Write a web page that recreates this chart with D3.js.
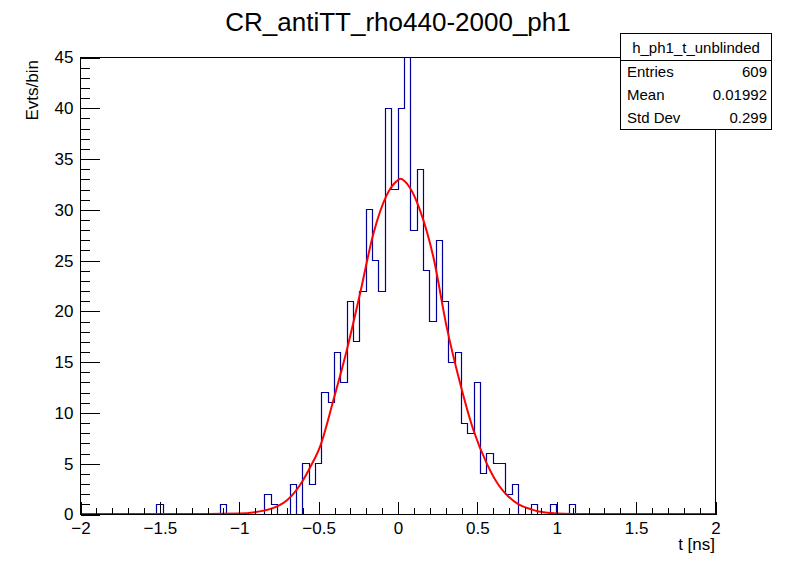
<!DOCTYPE html>
<html>
<head>
<meta charset="utf-8">
<script src="https://cdn.jsdelivr.net/npm/d3@7"></script>
<style>
  body { margin: 0; background: #fff; }
  svg { display: block; font-family: "Liberation Sans", Arial, Helvetica, sans-serif; }
</style>
</head>
<body>
<div id="chart"></div>
<script>
// histogram h_ph1_t_unblinded : 100 bins from -2 to 2
var binLow = -2, binHigh = 2, binWidth = 0.04;
var counts = [
  0, 0, 0, 0, 0, 0, 0, 0, 0, 0,
  0, 0, 1, 0, 0, 0, 0, 0, 0, 0,
  0, 0, 1, 0, 0, 0, 0, 0, 0, 2,
  1, 0, 0, 3, 0, 5, 3, 5, 12, 11,
  16, 13, 21, 17, 22, 30, 25, 22, 40, 32,
  40, 45, 28, 34, 24, 19, 27, 21, 15, 16,
  9, 8, 13, 4, 6, 5, 5, 2, 3, 0,
  0, 1, 0, 0, 1, 0, 0, 1, 0, 0,
  0, 0, 0, 0, 0, 0, 0, 0, 0, 0,
  0, 0, 0, 0, 0, 0, 0, 0, 0, 0
];

// gaussian fit
var fitX = [-2, -1.2, -1.0, -0.9, -0.8, -0.74, -0.7, -0.614, -0.55, -0.488, -0.404, -0.32, -0.236, -0.152, -0.068, 0.005, 0.016, 0.079, 0.142, 0.226, 0.31, 0.394, 0.478, 0.562, 0.641, 0.7, 0.763, 0.843, 0.9, 1.0, 1.2, 2];
var fitY = [0, 0, 0.04, 0.17, 0.5, 0.89, 1.3, 2.85, 4.6, 6.63, 11.2, 16.1, 21.7, 27.6, 31.4, 32.9, 33.0, 32.1, 29.9, 25.3, 18.4, 12.9, 8.27, 4.99, 2.76, 1.7, 0.95, 0.46, 0.22, 0.06, 0, 0];

var xMajor = [-2, -1.5, -1, -0.5, 0, 0.5, 1, 1.5, 2];
var xTickLabels = ["\u22122", "\u22121.5", "\u22121", "\u22120.5", "0", "0.5", "1", "1.5", "2"];
var yMajor = [0, 5, 10, 15, 20, 25, 30, 35, 40, 45];

var title = "CR_antiTT_rho440-2000_ph1";
var statsName = "h_ph1_t_unblinded";
var statsLabels = ["Entries", "Mean", "Std Dev"];
var statsValues = ["609", "0.01992", "0.299"];

var W = 796, H = 572;
var frame = { left: 80, right: 715, top: 57, bottom: 514 };
var lineColor = "#000099";
var fitColor = "#ff0000";

var svg = d3.select("#chart").append("svg")
  .attr("width", W)
  .attr("height", H);

svg.append("rect").attr("width", W).attr("height", H).attr("fill", "#fff");

var x = d3.scaleLinear().domain([binLow, binHigh]).range([frame.left, frame.right]);
var y = d3.scaleLinear().domain([0, 45]).range([frame.bottom, frame.top]);

svg.append("clipPath").attr("id", "clip")
  .append("rect")
  .attr("x", frame.left).attr("y", frame.top - 1)
  .attr("width", frame.right - frame.left).attr("height", frame.bottom - frame.top + 2);

// histogram outline as steps
var steps = [[binLow, 0]];
counts.forEach(function (c, i) {
  var lo = binLow + i * binWidth;
  steps.push([lo, c]);
  steps.push([lo + binWidth, c]);
});
steps.push([binHigh, 0]);

var stepLine = d3.line()
  .x(function (d) { return Math.round(x(d[0])) + 0.5; })
  .y(function (d) { return Math.round(y(d[1])) + 0.5; });

svg.append("path")
  .attr("clip-path", "url(#clip)")
  .attr("d", stepLine(steps))
  .attr("fill", "none")
  .attr("stroke", lineColor)
  .attr("stroke-width", 1.2);

// fit curve
var fitLine = d3.line()
  .x(function (d, i) { return x(fitX[i]); })
  .y(function (d) { return y(d); })
  .curve(d3.curveMonotoneX);

svg.append("path")
  .attr("d", fitLine(fitY))
  .attr("fill", "none")
  .attr("stroke", fitColor)
  .attr("stroke-width", 2);

// frame
svg.append("rect")
  .attr("x", frame.left + 0.5).attr("y", frame.top + 0.5)
  .attr("width", frame.right - frame.left).attr("height", frame.bottom - frame.top)
  .attr("fill", "none").attr("stroke", "#000").attr("stroke-width", 1);

// x axis: major + minor ticks pointing inwards
var xMinor = d3.range(-20, 21).map(function (d) { return d / 10; })
  .filter(function (d) { return xMajor.indexOf(d) < 0; });

var gx = svg.append("g")
  .attr("transform", "translate(0.5," + (frame.bottom + 0.5) + ")")
  .call(d3.axisBottom(x).tickValues(xMajor).tickSize(-13).tickPadding(7)
    .tickFormat(function (d, i) { return xTickLabels[i]; }));
svg.append("g")
  .attr("transform", "translate(0.5," + (frame.bottom + 0.5) + ")")
  .call(d3.axisBottom(x).tickValues(xMinor).tickSize(-6.5).tickFormat(""));

// y axis
var yMinor = d3.range(0, 46).filter(function (d) { return d % 5 !== 0; });
svg.append("g")
  .attr("transform", "translate(" + (frame.left + 0.5) + ",0.5)")
  .call(d3.axisLeft(y).tickValues(yMajor).tickSize(-19).tickPadding(7));
svg.append("g")
  .attr("transform", "translate(" + (frame.left + 0.5) + ",0.5)")
  .call(d3.axisLeft(y).tickValues(yMinor).tickSize(-9.5).tickFormat(""));

svg.selectAll(".domain").remove();
svg.selectAll(".tick line").attr("stroke", "#000").attr("shape-rendering", "crispEdges");
svg.selectAll(".tick text")
  .attr("fill", "#000")
  .style("font-size", "17px")
  .style("font-family", "'Liberation Sans', Arial, sans-serif");

// titles
svg.append("text")
  .attr("x", 398).attr("y", 31)
  .attr("text-anchor", "middle")
  .style("font-size", "26px")
  .text(title);

svg.append("text")
  .attr("x", frame.right).attr("y", 550)
  .attr("text-anchor", "end")
  .style("font-size", "17px")
  .text("t [ns]");

svg.append("text")
  .attr("transform", "translate(38," + 60 + ") rotate(-90)")
  .attr("text-anchor", "end")
  .style("font-size", "17px")
  .text("Evts/bin");

// stats box
var box = { x: 620.5, y: 33.5, w: 151, h: 96 };
var sb = svg.append("g");
sb.append("rect")
  .attr("x", box.x).attr("y", box.y).attr("width", box.w).attr("height", box.h)
  .attr("fill", "#fff").attr("stroke", "#000");
sb.append("line")
  .attr("x1", box.x).attr("x2", box.x + box.w)
  .attr("y1", 60.5).attr("y2", 60.5)
  .attr("stroke", "#000");
sb.append("text")
  .attr("x", box.x + box.w / 2).attr("y", 53)
  .attr("text-anchor", "middle")
  .style("font-size", "15px")
  .text(statsName);
statsLabels.forEach(function (lab, i) {
  sb.append("text")
    .attr("x", 627).attr("y", 77 + i * 23)
    .style("font-size", "15px")
    .text(lab);
  sb.append("text")
    .attr("x", 767).attr("y", 77 + i * 23)
    .attr("text-anchor", "end")
    .style("font-size", "15px")
    .text(statsValues[i]);
});
</script>
</body>
</html>
